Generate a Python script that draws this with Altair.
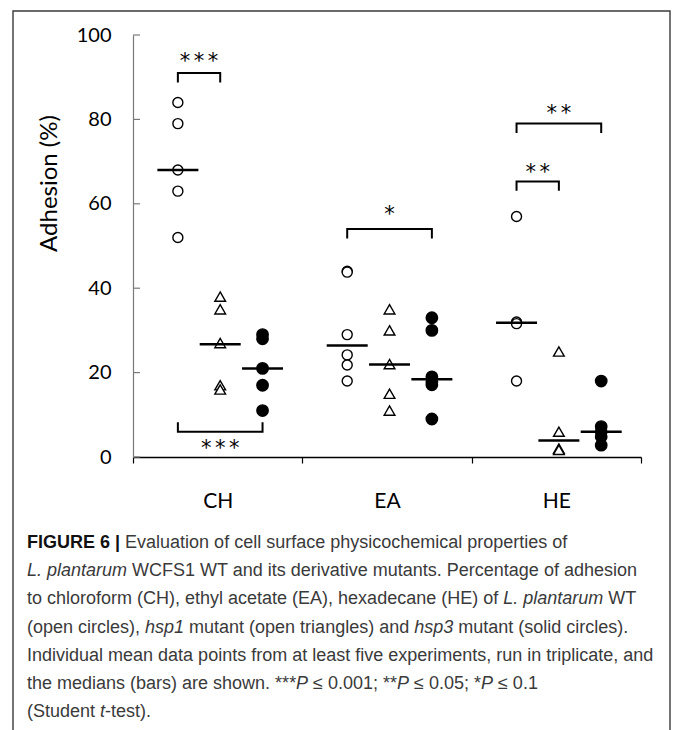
import altair as alt
import pandas as pd

# ---------------- data ----------------
categories = ["CH", "EA", "HE"]
groups = ["WT", "hsp1", "hsp3"]
# offset slots: the groups plus the midpoints between neighbours (for the significance labels),
# with one empty slot at each side of the band
slots = ["left", "WT", "WT–hsp1", "hsp1", "hsp1–hsp3", "hsp3", "right"]

ch_wt = [84, 79, 68, 63, 52]
ch_hsp1 = [38, 35, 27, 17, 16]
ch_hsp3 = [29, 28, 21, 17, 11]
ea_wt = [44, 43.8, 29, 24.2, 21.8, 18]
ea_hsp1 = [35, 30, 22, 15, 11]
ea_hsp3 = [33, 30, 19, 17.8, 17.1, 9]
he_wt = [57, 32, 31.6, 18]
he_hsp1 = [25, 6, 2.0, 1.7]
he_hsp3 = [18, 7.2, 6, 4.8, 2.8]

median_cat = ["CH", "CH", "CH", "EA", "EA", "EA", "HE", "HE", "HE"]
median_group = ["WT", "hsp1", "hsp3"] * 3
median_value = [68, 26.7, 21, 26.4, 21.9, 18.4, 31.8, 3.9, 6.0]

bracket_cat = ["CH", "CH", "EA", "HE", "HE"]
bracket_from = ["WT", "WT", "WT", "WT", "WT"]
bracket_to = ["hsp1", "hsp3", "hsp3", "hsp3", "hsp1"]
bracket_level = [91, 6, 54, 79, 65.3]
bracket_tip = [89, 8, 52, 77, 63.3]
star_text = ["***", "***", "*", "**", "**"]
star_y = [93.7, 1.8, 57.3, 81.3, 67.2]

y_ticks = [0, 20, 40, 60, 80, 100]

caption_lines = [
    [("FIGURE 6 |", "bold"), (" Evaluation of cell surface physicochemical properties of", "normal")],
    [("L. plantarum", "italic"), (" WCFS1 WT and its derivative mutants. Percentage of adhesion", "normal")],
    [("to chloroform (CH), ethyl acetate (EA), hexadecane (HE) of ", "normal"), ("L. plantarum", "italic"), (" WT", "normal")],
    [("(open circles), ", "normal"), ("hsp1", "italic"), (" mutant (open triangles) and ", "normal"),
     ("hsp3", "italic"), (" mutant (solid circles).", "normal")],
    [("Individual mean data points from at least five experiments, run in triplicate, and", "normal")],
    [("the medians (bars) are shown. ***", "normal"), ("P", "italic"), (" ≤ 0.001; **", "normal"),
     ("P", "italic"), (" ≤ 0.05; *", "normal"), ("P", "italic"), (" ≤ 0.1", "normal")],
    [("(Student ", "normal"), ("t", "italic"), ("-test).", "normal")],
]

# ---------------- build tables ----------------
series = {
    ("CH", "WT"): ch_wt, ("CH", "hsp1"): ch_hsp1, ("CH", "hsp3"): ch_hsp3,
    ("EA", "WT"): ea_wt, ("EA", "hsp1"): ea_hsp1, ("EA", "hsp3"): ea_hsp3,
    ("HE", "WT"): he_wt, ("HE", "hsp1"): he_hsp1, ("HE", "hsp3"): he_hsp3,
}
pts = pd.DataFrame(
    [{"cat": c, "group": g, "value": v} for (c, g), vals in series.items() for v in vals]
)
meds = pd.DataFrame({"cat": median_cat, "group": median_group, "value": median_value})

brows = []
for i in range(len(bracket_cat)):
    path = [(bracket_from[i], bracket_tip[i]), (bracket_from[i], bracket_level[i]),
            (bracket_to[i], bracket_level[i]), (bracket_to[i], bracket_tip[i])]
    for k, (s, y) in enumerate(path):
        brows.append({"cat": bracket_cat[i], "slot": s, "y": y, "bid": i, "k": k})
brk = pd.DataFrame(brows)

SIXTH_SPACE = "\u2006"
stars = pd.DataFrame({
    "cat": bracket_cat,
    "slot": [slots[(slots.index(a) + slots.index(b)) // 2] for a, b in zip(bracket_from, bracket_to)],
    "y": star_y,
    "label": [SIXTH_SPACE.join(s) for s in star_text],
})
yt = pd.DataFrame({"v": y_ticks})

# caption layout with Arial/Liberation Sans metrics (per 1000 em)
W = {" ": 278, "!": 278, "(": 333, ")": 333, "*": 389, ",": 278, "-": 333, ".": 278, "/": 278,
     ":": 278, ";": 278, "|": 260, "≤": 549, "–": 556}
for ch in "0123456789":
    W[ch] = 556
W.update(dict(zip("ABCDEFGHIJKLMNOPQRSTUVWXYZ",
                  [667, 667, 722, 722, 667, 611, 778, 722, 278, 500, 667, 556, 833, 722, 778, 667,
                   778, 722, 667, 611, 722, 667, 944, 667, 667, 611])))
W.update(dict(zip("abcdefghijklmnopqrstuvwxyz",
                  [556, 556, 500, 556, 556, 278, 556, 556, 222, 222, 500, 222, 833, 556, 556, 556,
                   556, 333, 500, 278, 556, 500, 722, 500, 500, 500])))
WB = dict(W)
WB.update({"|": 280, "A": 722, "B": 722})

CAP_SIZE = 18
CAP_X = -106
CAP_Y0 = 508
CAP_STEP = 28.2


def width(s, style):
    tab = WB if style == "bold" else W
    return sum(tab.get(c, 556) for c in s) / 1000.0 * CAP_SIZE


segs = []
for li, line in enumerate(caption_lines):
    x = CAP_X
    for txt, style in line:
        lead = len(txt) - len(txt.lstrip(" "))
        segs.append({"t": txt.strip(" "), "style": style,
                     "px": x + width(txt[:lead], style), "py": CAP_Y0 + li * CAP_STEP})
        x += width(txt, style)
cap = pd.DataFrame(segs)

# ---------------- scales / axes ----------------
FONT = "Lato"
xscale = alt.Scale(domain=categories, paddingInner=0, paddingOuter=0)
oscale = alt.Scale(domain=slots, paddingInner=0, paddingOuter=0.5, align=0.62)
yscale = alt.Scale(domain=[0, 100], nice=False)
xaxis = alt.Axis(title=None, labelFont=FONT, labelFontSize=21, labelColor="black", labelAngle=0,
                 labelPadding=27, tickBand="extent", tickSize=6, tickColor="black",
                 domainColor="black", domainWidth=1.4, tickWidth=1.2)
yaxis = alt.Axis(title="Adhesion (%)", values=y_ticks, grid=False, ticks=False, tickSize=0,
                 labelPadding=22, labelFont=FONT, labelFontSize=20, labelColor="black",
                 domainColor="#7a7a7a", domainWidth=1.2,
                 titleFont=FONT, titleFontSize=24, titleFontWeight="normal", titleColor="black",
                 titleAngle=270, titleX=-84, titleY=148, titleBaseline="middle", titleAlign="center")

X = alt.X("cat:N", scale=xscale, axis=xaxis, sort=categories)

frame = alt.Chart(pd.DataFrame({"a": [0]})).mark_rect(
    fillOpacity=0, stroke="#3a3a3a", strokeWidth=1.4
).encode(x=alt.value(-120), x2=alt.value(537), y=alt.value(-24), y2=alt.value(720))

points = alt.Chart(pts).mark_point(opacity=1, stroke="black", strokeWidth=1.4, fillOpacity=1).encode(
    x=X,
    xOffset=alt.XOffset("group:N", scale=oscale),
    y=alt.Y("value:Q", scale=yscale, axis=yaxis),
    shape=alt.Shape("group:N", scale=alt.Scale(domain=groups, range=["circle", "triangle-up", "circle"]), legend=None),
    fill=alt.Fill("group:N", scale=alt.Scale(domain=groups, range=["white", "white", "black"]), legend=None),
    size=alt.Size("group:N", scale=alt.Scale(domain=groups, range=[100, 130, 95]), legend=None),
)

medians = alt.Chart(meds).mark_tick(color="black", size=41, thickness=2.5, opacity=1).encode(
    x=X,
    xOffset=alt.XOffset("group:N", scale=oscale),
    y=alt.Y("value:Q", scale=yscale, axis=yaxis),
)

brackets = alt.Chart(brk).mark_line(color="black", strokeWidth=2, strokeJoin="miter", strokeCap="square").encode(
    x=X,
    xOffset=alt.XOffset("slot:N", scale=oscale),
    y=alt.Y("y:Q", scale=yscale, axis=yaxis),
    detail="bid:N",
    order="k:Q",
)

star_marks = alt.Chart(stars).mark_text(font="DejaVu Sans", fontSize=21, color="black", baseline="middle").encode(
    x=X,
    xOffset=alt.XOffset("slot:N", scale=oscale),
    y=alt.Y("y:Q", scale=yscale, axis=yaxis),
    text="label:N",
)

inner_ticks = alt.Chart(yt).mark_rule(color="#7a7a7a", strokeWidth=1.2).encode(
    y=alt.Y("v:Q", scale=yscale, axis=yaxis), x=alt.value(0), x2=alt.value(7)
)


def cap_layer(style):
    kw = {"fontWeight": "bold", "color": "#111"} if style == "bold" else {"color": "#3a3a3a"}
    if style == "italic":
        kw["fontStyle"] = "italic"
    return alt.Chart(cap[cap["style"] == style]).mark_text(
        font="Liberation Sans", fontSize=CAP_SIZE, align="left", baseline="middle", **kw
    ).encode(
        x=alt.X("px:Q", scale=None, axis=None),
        y=alt.Y("py:Q", scale=None, axis=None),
        text="t:N",
    )


chart = alt.layer(
    frame, points, medians, brackets, star_marks, inner_ticks,
    cap_layer("normal"), cap_layer("italic"), cap_layer("bold"),
).properties(
    width=508, height=422,
    autosize=alt.AutoSizeParams(type="none"),
    padding={"left": 133, "top": 35, "right": 34, "bottom": 273},
    background="white",
).configure_view(stroke=None)

chart.save("out.html", embed_options={"renderer": "svg", "actions": False})
